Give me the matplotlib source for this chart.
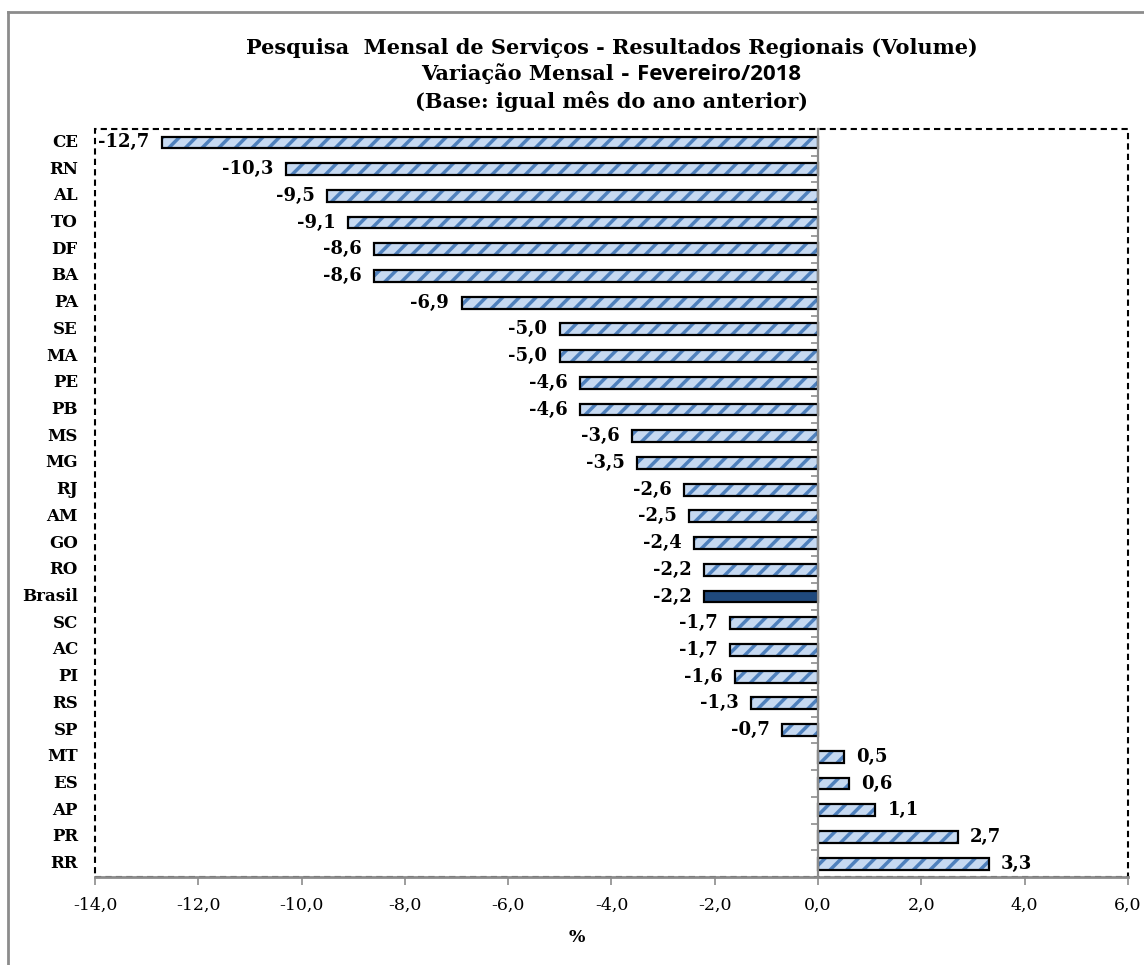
import matplotlib
matplotlib.use("Agg")
import matplotlib.pyplot as plt
import matplotlib.transforms as mtransforms
from matplotlib.lines import Line2D
from matplotlib.patches import Rectangle
from matplotlib.ticker import FuncFormatter, FixedLocator

# Dados: variação mensal (%) por UF, fev/2018 sobre fev/2017
ufs = ["CE", "RN", "AL", "TO", "DF", "BA", "PA", "SE", "MA", "PE", "PB", "MS", "MG", "RJ",
       "AM", "GO", "RO", "Brasil", "SC", "AC", "PI", "RS", "SP", "MT", "ES", "AP", "PR", "RR"]
variacao = [-12.7, -10.3, -9.5, -9.1, -8.6, -8.6, -6.9, -5.0, -5.0, -4.6, -4.6, -3.6, -3.5, -2.6,
            -2.5, -2.4, -2.2, -2.2, -1.7, -1.7, -1.6, -1.3, -0.7, 0.5, 0.6, 1.1, 2.7, 3.3]
x_ticks = [-14, -12, -10, -8, -6, -4, -2, 0, 2, 4, 6]

SERIF = "DejaVu Serif"
plt.rcParams["hatch.linewidth"] = 2.5

fig = plt.figure(figsize=(11.44, 9.65), dpi=100)
ax = fig.add_axes([0.0830, 0.0912, 0.9030, 0.7751])

ypos = list(range(len(ufs)))
cores = ["#1f497d" if uf == "Brasil" else "#c6d9f1" for uf in ufs]
hatches = ["" if uf == "Brasil" else "//" for uf in ufs]

# preenchimento com listras
bars = ax.barh(ypos, variacao, height=0.44, color=cores, edgecolor="#4f81bd", linewidth=0, zorder=2)
for b, h in zip(bars, hatches):
    b.set_hatch(h)
# contorno preto
ax.barh(ypos, variacao, height=0.44, fill=False, edgecolor="black", linewidth=1.6, zorder=3)

ax.set_xlim(-14, 6)
ax.set_ylim(len(ufs) - 0.5, -0.5)

# rotulos de dados
for y, v in zip(ypos, variacao):
    txt = f"{v:.1f}".replace(".", ",")
    ax.annotate(txt, (v, y), xytext=(-9 if v < 0 else 9, 0), textcoords="offset points",
                ha="right" if v < 0 else "left", va="center", fontsize=13,
                fontweight="bold", family=SERIF, zorder=4)

# nomes das UFs
trans = mtransforms.blended_transform_factory(ax.transAxes, ax.transData)
for y, uf in zip(ypos, ufs):
    ax.text(-0.0165, y, uf, transform=trans, ha="right", va="center",
            fontsize=12, fontweight="bold", family=SERIF)

# eixo vertical no zero
ax.spines["left"].set_position(("data", 0))
ax.spines["left"].set_color("#8c8c8c")
ax.spines["left"].set_linewidth(1.6)
ax.spines["left"].set_zorder(5)
ax.spines["top"].set_visible(False)
ax.spines["right"].set_visible(False)
ax.spines["bottom"].set_color("#8c8c8c")
ax.spines["bottom"].set_linewidth(2)
ax.spines["bottom"].set_zorder(6)
ax.set_yticks(ypos)
ax.set_yticklabels([])
ax.tick_params(axis="y", which="major", length=0)
ax.yaxis.set_minor_locator(FixedLocator([y + 0.5 for y in ypos[:-1]]))
ax.tick_params(axis="y", which="minor", length=5, width=1.2, color="#8c8c8c", direction="out")

ax.set_xticks(x_ticks)
ax.xaxis.set_major_formatter(FuncFormatter(lambda v, p: f"{v:.1f}".replace(".", ",")))
ax.tick_params(axis="x", length=6, width=1.2, color="#8c8c8c", pad=8, labelsize=12.5)
for lab in ax.get_xticklabels():
    lab.set_family(SERIF)

# borda tracejada da area de plotagem
ax.add_patch(Rectangle((0, 0), 1, 1, transform=ax.transAxes, fill=False, edgecolor="black",
                       linewidth=1.5, linestyle=(0, (3, 2)), clip_on=False, zorder=1))

fig.text(0.504, 1 - 937 / 965, "%", ha="center", va="center", fontsize=12.5,
         fontweight="bold", family=SERIF)

# borda cinza do grafico
fig.add_artist(Line2D([8 / 1144, 8 / 1144], [0, 1 - 12 / 965], color="#8c8c8c", linewidth=2))
fig.add_artist(Line2D([8 / 1144, 1], [1 - 12 / 965, 1 - 12 / 965], color="#8c8c8c", linewidth=2))

# titulo
cx = 0.5345
fig.text(cx, 1 - 48 / 965, "Pesquisa  Mensal de Serviços - Resultados Regionais (Volume)",
         ha="center", va="center", fontsize=15, fontweight="bold", family=SERIF)
fig.text(cx, 1 - 101 / 965, "(Base: igual mês do ano anterior)",
         ha="center", va="center", fontsize=15, fontweight="bold", family=SERIF)
t1 = fig.text(0, 1 - 74 / 965, "Variação Mensal - ", ha="left", va="center",
              fontsize=15, fontweight="bold", family=SERIF)
t2 = fig.text(0, 1 - 74 / 965, "Fevereiro/2018", ha="left", va="center",
              fontsize=16, fontweight="bold", family="Open Sans")
fig.canvas.draw()
r = fig.canvas.get_renderer()
w1 = t1.get_window_extent(r).width / fig.bbox.width
w2 = t2.get_window_extent(r).width / fig.bbox.width
x0 = cx - (w1 + w2) / 2
t1.set_x(x0)
t2.set_x(x0 + w1)

fig.savefig("out.png", dpi=100)
